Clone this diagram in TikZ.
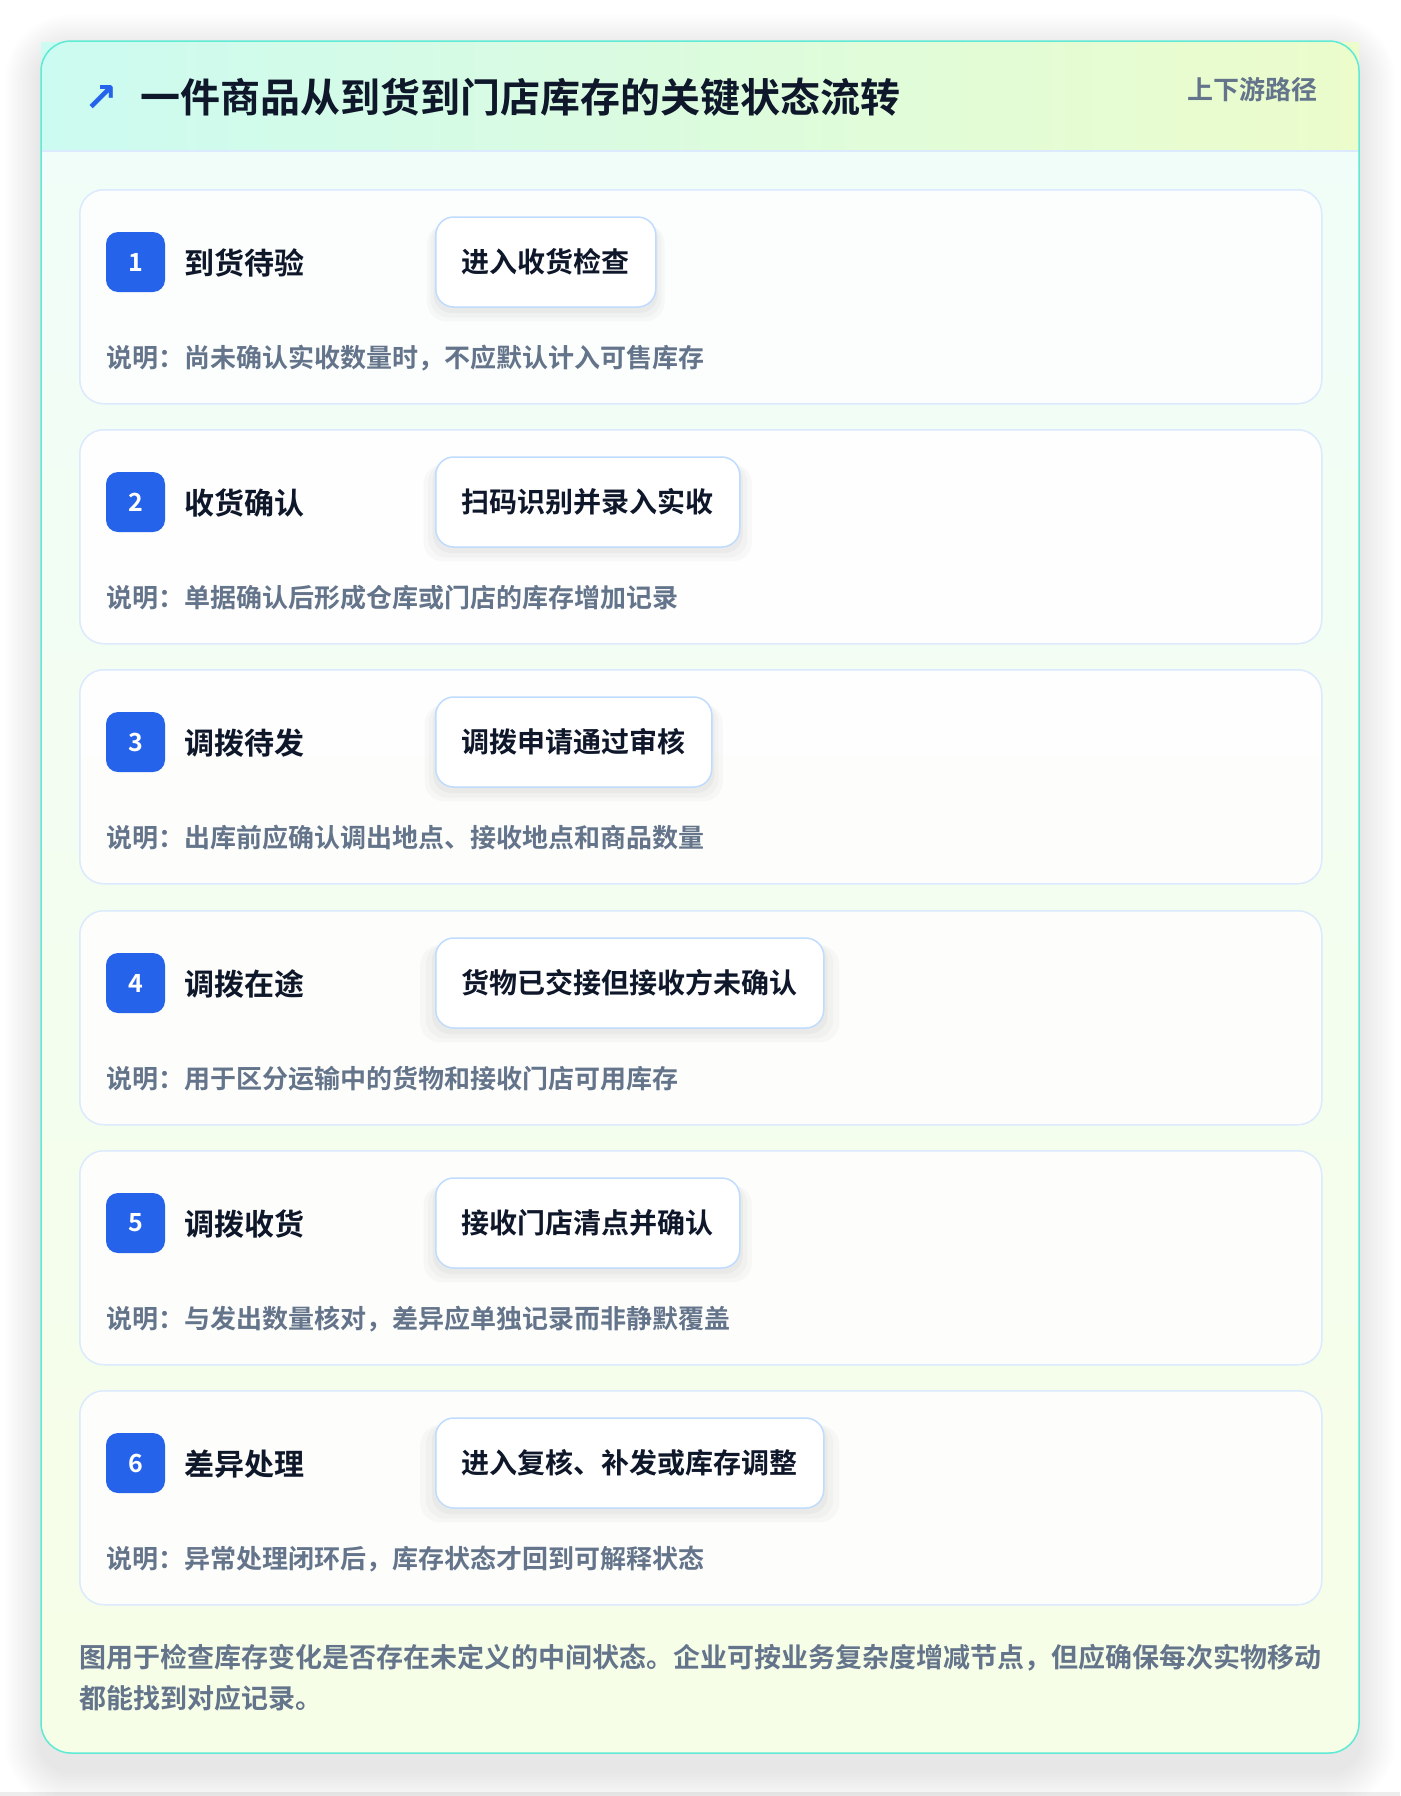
\documentclass[tikz,border=0pt]{standalone}
\usepackage{fontspec}
\setmainfont{Noto Sans CJK SC}[BoldFont={Noto Sans CJK SC Bold}]
\newfontfamily\symfont{DejaVu Sans}
\usetikzlibrary{shadows}
\definecolor{ink}{HTML}{0F172A}
\definecolor{muted}{HTML}{64748B}
\definecolor{badgeblue}{HTML}{2563EB}
\definecolor{stepline}{HTML}{DBEAFE}
\definecolor{actline}{HTML}{BFDBFE}
\definecolor{cardline}{HTML}{5EEAD4}
\definecolor{headleft}{HTML}{CCFBF1}
\definecolor{headright}{HTML}{ECFCCB}
\definecolor{cardtop}{HTML}{F0FDF9}
\definecolor{cardbottom}{HTML}{F7FEE7}
\begin{document}
\begin{tikzpicture}[x=1pt,y=-1pt,
    stepbox/.style={draw=stepline,line width=1.5pt,fill=white,fill opacity=0.85,text opacity=1,
        rounded corners=24pt,minimum width=1242pt,minimum height=214pt,anchor=north west,inner sep=0pt},
    badge/.style={fill=badgeblue,rounded corners=12pt,minimum width=59pt,minimum height=60pt,
        inner sep=0pt,text=white,font=\fontsize{25}{25}\selectfont\bfseries},
    stepname/.style={anchor=west,inner sep=0pt,text=ink,font=\fontsize{30}{30}\selectfont\bfseries},
    action/.style={draw=actline,line width=1.5pt,fill=white,rounded corners=18pt,minimum height=90pt,
        inner xsep=26pt,inner ysep=0pt,anchor=west,text=ink,font=\fontsize{28}{28}\selectfont\bfseries,
        general shadow={fill=black,opacity=0.025,shadow yshift=-10pt,shadow scale=1.08},
        general shadow={fill=black,opacity=0.025,shadow yshift=-8pt,shadow scale=1.05},
        general shadow={fill=black,opacity=0.03,shadow yshift=-5pt,shadow scale=1.02}},
    note/.style={anchor=west,inner sep=0pt,text=muted,font=\fontsize{26}{26}\selectfont\bfseries}]
    \useasboundingbox (0,0) rectangle (1400,1796);
    \fill[white] (0,0) rectangle (1400,1796);
    \fill[black!7] (0,1792) rectangle (1400,1796);

    % soft card shadow
    \foreach \r in {3,6,...,36}
        \fill[black,opacity=0.006,rounded corners=30pt+\r pt] (41-\r,51-\r) rectangle (1359+\r,1771+\r);

    % card and header
    \fill[top color=cardtop,bottom color=cardbottom,rounded corners=30pt] (41,41) rectangle (1359,1753);
    \fill[left color=headleft,right color=headright] (41,42) rectangle (1359,151);
    \draw[stepline,line width=2pt] (41,151) -- (1359,151);
    \draw[cardline,line width=1.5pt,rounded corners=30pt] (41,41) rectangle (1359,1753);

    \node[inner sep=0pt,text=badgeblue,font=\symfont\fontsize{40}{40}\selectfont\bfseries] (icon) at (101,99) {↗};
    \node[anchor=west,inner sep=0pt,text=ink,font=\fontsize{40}{40}\selectfont\bfseries] (title) at (140,97)
        {一件商品从到货到门店库存的关键状态流转};
    \node[anchor=east,inner sep=0pt,text=muted,font=\fontsize{26}{26}\selectfont\bfseries] (tag) at (1318,90) {上下游路径};

    % step 1
    \node[stepbox] (s1) at (79,189) {};
    \node[badge] (b1) at (135.5,262) {1};
    \node[stepname] (n1) at (184,263) {到货待验};
    \node[action] (a1) at (435,262) {进入收货检查};
    \node[note] (d1) at (106,358) {说明：尚未确认实收数量时，不应默认计入可售库存};

    % step 2
    \node[stepbox] (s2) at (79,429) {};
    \node[badge] (b2) at (135.5,502) {2};
    \node[stepname] (n2) at (184,503) {收货确认};
    \node[action] (a2) at (435,502) {扫码识别并录入实收};
    \node[note] (d2) at (106,598) {说明：单据确认后形成仓库或门店的库存增加记录};

    % step 3
    \node[stepbox] (s3) at (79,669) {};
    \node[badge] (b3) at (135.5,742) {3};
    \node[stepname] (n3) at (184,743) {调拨待发};
    \node[action] (a3) at (435,742) {调拨申请通过审核};
    \node[note] (d3) at (106,838) {说明：出库前应确认调出地点、接收地点和商品数量};

    % step 4
    \node[stepbox] (s4) at (79,910) {};
    \node[badge] (b4) at (135.5,983) {4};
    \node[stepname] (n4) at (184,984) {调拨在途};
    \node[action] (a4) at (435,983) {货物已交接但接收方未确认};
    \node[note] (d4) at (106,1079) {说明：用于区分运输中的货物和接收门店可用库存};

    % step 5
    \node[stepbox] (s5) at (79,1150) {};
    \node[badge] (b5) at (135.5,1223) {5};
    \node[stepname] (n5) at (184,1224) {调拨收货};
    \node[action] (a5) at (435,1223) {接收门店清点并确认};
    \node[note] (d5) at (106,1319) {说明：与发出数量核对，差异应单独记录而非静默覆盖};

    % step 6
    \node[stepbox] (s6) at (79,1390) {};
    \node[badge] (b6) at (135.5,1463) {6};
    \node[stepname] (n6) at (184,1464) {差异处理};
    \node[action] (a6) at (435,1463) {进入复核、补发或库存调整};
    \node[note] (d6) at (106,1559) {说明：异常处理闭环后，库存状态才回到可解释状态};

    % footnote
    \node[note,font=\fontsize{27}{27}\selectfont\bfseries] (foot1) at (79,1658)
        {图用于检查库存变化是否存在未定义的中间状态。企业可按业务复杂度增减节点，但应确保每次实物移动};
    \node[note,font=\fontsize{27}{27}\selectfont\bfseries] (foot2) at (79,1698) {都能找到对应记录。};
\end{tikzpicture}
\end{document}
